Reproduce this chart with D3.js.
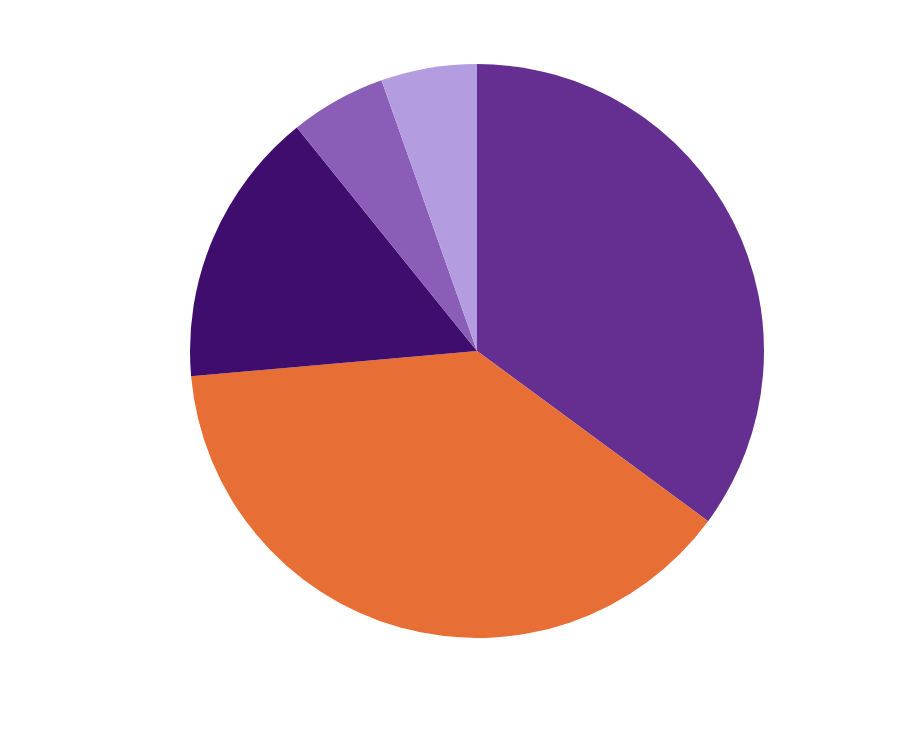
<!DOCTYPE html>
<html>
<head>
<meta charset="utf-8">
<script src="https://cdn.jsdelivr.net/npm/d3@7"></script>
<style>
  html, body { margin: 0; padding: 0; background: #fff; }
</style>
</head>
<body>
<div id="chart"></div>
<script>
// Data (clockwise from 12 o'clock)
const categories = ["A", "B", "C", "D", "E"];
const values = [35.1, 38.5, 15.6, 5.4, 5.4];
const colors = ["#652f91", "#e76e34", "#3f0d6e", "#8a5db6", "#b39ce0"];

const width = 924, height = 735;
const cx = 477, cy = 351, radius = 287;

const svg = d3.select("#chart")
    .append("svg")
    .attr("width", width)
    .attr("height", height)
    .append("g")
    .attr("transform", `translate(${cx},${cy})`);

const color = d3.scaleOrdinal().domain(categories).range(colors);

const pie = d3.pie()
    .sort(null)
    .value(d => d.value);

const arc = d3.arc()
    .innerRadius(0)
    .outerRadius(radius);

const data = categories.map((c, i) => ({ category: c, value: values[i] }));

svg.selectAll("path")
    .data(pie(data))
    .enter()
    .append("path")
    .attr("d", arc)
    .attr("fill", d => color(d.data.category));
</script>
</body>
</html>
